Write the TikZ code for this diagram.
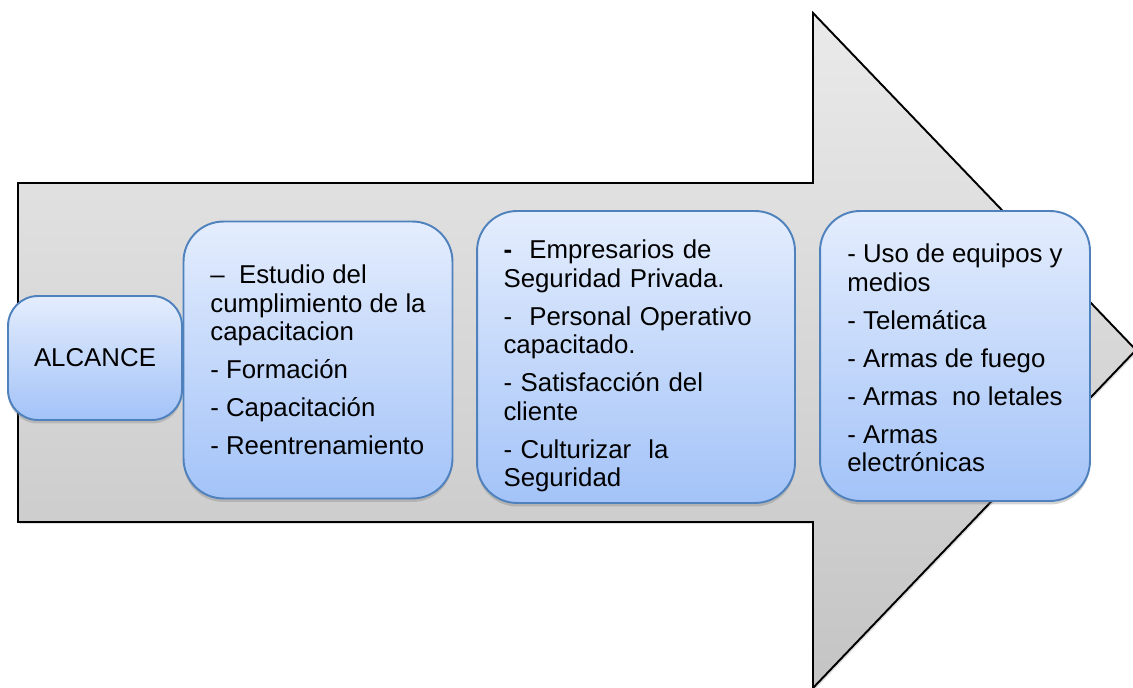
\documentclass[tikz,border=0pt]{standalone}
\usepackage{fontspec}
\setmainfont{Liberation Sans}
\usetikzlibrary{shadows}

\definecolor{boxtop}{HTML}{E4EDFD}
\definecolor{boxbot}{HTML}{A3C3F8}
\definecolor{boxline}{HTML}{4F81BD}
\definecolor{arrtop}{HTML}{EAEAEA}
\definecolor{arrbot}{HTML}{C4C4C4}

\tikzset{
  caja/.style={draw=boxline, line width=1.1pt, rounded corners=0.8cm,
    top color=boxtop, bottom color=boxbot, inner xsep=0.3cm, align=left,
    font=\fontsize{14.7}{16.2}\selectfont,
    drop shadow={opacity=0.35, shadow xshift=0pt, shadow yshift=-2pt}},
  flecha/.style={draw=black, line width=1.1pt, top color=arrtop, bottom color=arrbot,
    drop shadow={opacity=0.25, shadow xshift=1pt, shadow yshift=-1pt}}
}

\begin{document}
\begin{tikzpicture}[x=0.02cm, y=-0.02cm]
    \useasboundingbox (0,0) rectangle (1133,688);
    % flecha de fondo
    \path[flecha] (18,183) -- (813,183) -- (813,13) -- (1136,350)
        -- (813,688) -- (813,522) -- (18,522) -- cycle;
    \node[caja, rounded corners=0.6cm, minimum width=3.48cm, minimum height=2.48cm,
        align=center] (alcance) at (95,358) {ALCANCE};
    \node[caja, minimum width=5.38cm, minimum height=5.54cm]
        (estudio) at (318,360) {--\ \ Estudio del\\cumplimiento de la\\capacitacion\\[5.4pt]
        - Formación\\[5.4pt]- Capacitación\\[5.4pt]- Reentrenamiento};
    \node[caja, minimum width=6.36cm, minimum height=5.84cm, text width=5.3cm]
        (empresarios) at (636,357) {\rule{0pt}{21pt}\textbf{-}\ \ Empresarios de\\Seguridad Privada.\\[5.4pt]
        -\ \ Personal Operativo\\capacitado.\\[5.4pt]- Satisfacción del\\cliente\\[5.4pt]
        - Culturizar\ \ la\\Seguridad};
    \node[caja, minimum width=5.40cm, minimum height=5.80cm]
        (equipos) at (955,356) {\rule{0pt}{13pt}- Uso de equipos y\\medios\\[5.4pt]- Telemática\\[5.4pt]
        - Armas de fuego\\[5.4pt]- Armas\ \ no letales\\[5.4pt]- Armas\\electrónicas};
\end{tikzpicture}
\end{document}
